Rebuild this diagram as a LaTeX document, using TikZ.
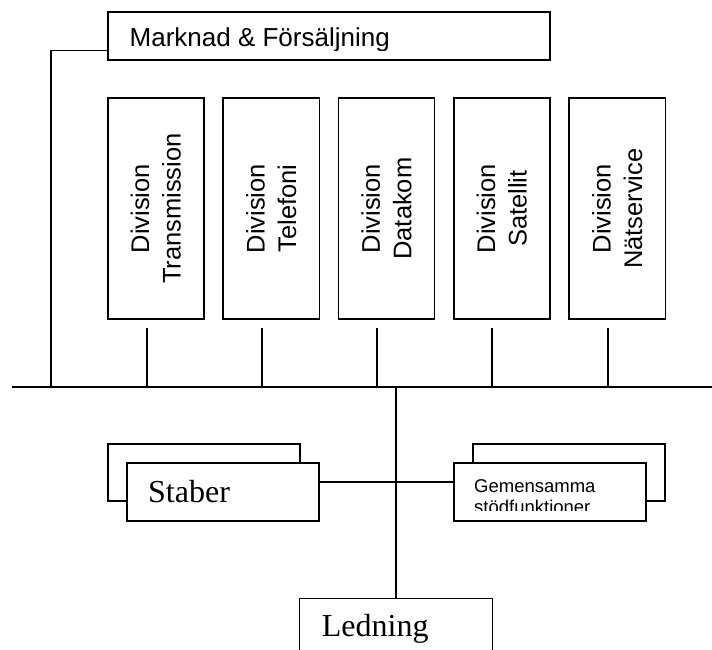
\documentclass[tikz,border=0pt]{standalone}
\usepackage{fontspec}
\setmainfont{Liberation Serif}
\newfontfamily\arialfont{Liberation Sans}
\begin{document}
\begin{tikzpicture}[x=1pt,y=-1pt,
  frame/.style={draw=black, line width=1.6pt, fill=white, inner sep=0pt, outer sep=0pt, rectangle, anchor=north west},
  wire/.style={draw=black, line width=1.6pt},
  divlabel/.style={rotate=90, align=center, inner sep=0pt, font=\arialfont\fontsize{25.5}{31.5}\selectfont},
  sanslabel/.style={anchor=base west, inner sep=0pt, font=\arialfont\fontsize{26}{30}\selectfont},
  smalllabel/.style={anchor=base west, inner sep=0pt, align=left, font=\arialfont\fontsize{18.5}{21.3}\selectfont},
  seriflabel/.style={anchor=base west, inner sep=0pt, font=\fontsize{32}{36}\selectfont}]
\useasboundingbox (0,0) rectangle (712,650);
\clip (0,0) rectangle (712,650);

% sales box
\node[frame, minimum width=442.3pt, minimum height=48.3pt] (mf) at (107.7,12) {};
\begin{scope}
  \clip (107.7,12) rectangle (550,50.3);
  \node[sanslabel] (mft) at (129.5,46.7) {Marknad \& Försäljning};
\end{scope}

% divisions
\node[frame, minimum width=96.3pt, minimum height=220.7pt] (d1) at (107.7,98.3) {};
\node[frame, minimum width=96.3pt, minimum height=220.7pt] (d2) at (223,98.3) {};
\node[frame, minimum width=96.3pt, minimum height=220.7pt] (d3) at (338.3,98.3) {};
\node[frame, minimum width=96.3pt, minimum height=220.7pt] (d4) at (453.7,98.3) {};
\node[frame, minimum width=96.3pt, minimum height=220.7pt] (d5) at (569,98.3) {};
\node[divlabel] (d1t) at (d1.center) {Division\\Transmission};
\node[divlabel] (d2t) at (d2.center) {Division\\Telefoni};
\node[divlabel] (d3t) at (d3.center) {Division\\Datakom};
\node[divlabel] (d4t) at (d4.center) {Division\\Satellit};
\node[divlabel] (d5t) at (d5.center) {Division\\Nätservice};

% bus line and its drops
\coordinate (busL) at (11.7,386.7);
\coordinate (busR) at (712,386.7);
\draw[wire] (busL) -- (busR);
\coordinate (mfport) at (107.7,50.5);
\coordinate (mfcorner) at (50.7,50.5);
\coordinate (mfbus) at (50.7,386.7);
\draw[wire] (mfport) -- (mfcorner) -- (mfbus);
\coordinate (t1) at (146.7,328.3);
\coordinate (t2) at (261.7,328.3);
\coordinate (t3) at (376.7,328.3);
\coordinate (t4) at (491.7,328.3);
\coordinate (t5) at (607.7,328.3);
\foreach \t in {t1,t2,t3,t4,t5}
  \draw[wire] (\t) -- (\t |- busL);

% staff units (stacked boxes)
\node[frame, minimum width=192.3pt, minimum height=57pt] (stabB) at (107.7,444) {};
\node[frame, minimum width=192.3pt, minimum height=57.7pt] (stab) at (126.7,463) {};
\node[seriflabel] (stabt) at (148,502.7) {Staber};

\node[frame, minimum width=192.3pt, minimum height=57pt] (gemB) at (472.7,444) {};
\node[frame, minimum width=191.7pt, minimum height=57.7pt] (gem) at (454,463) {};
\begin{scope}
  \clip (454,463) rectangle (645.7,510);
  % the base anchor of a two-line node sits on its last line
  \node[smalllabel] (gemt) at (474,513.3) {Gemensamma\\stödfunktioner};
\end{scope}

% management
\node[frame, minimum width=193pt, minimum height=80pt] (led) at (299.3,598.3) {};
\node[seriflabel] (ledt) at (321.7,636.7) {Ledning};

\draw[wire] ([yshift=10pt]stab.east) -- ([yshift=10pt]gem.west);
\draw[wire] (led.north) -- (led.north |- busL);
\end{tikzpicture}
\end{document}
